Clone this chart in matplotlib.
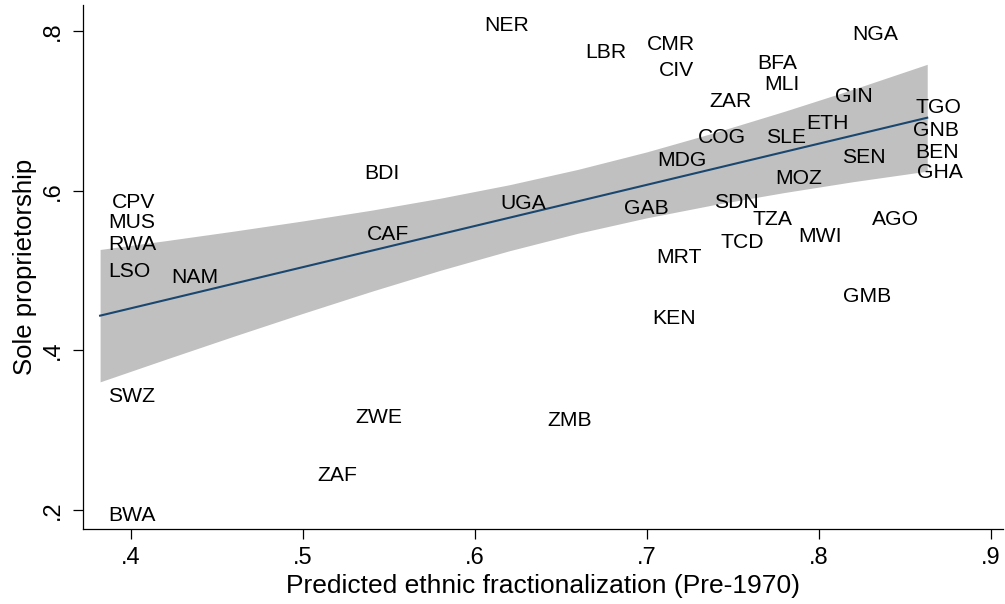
import matplotlib
matplotlib.use("Agg")
import matplotlib.pyplot as plt

plt.rcParams["font.family"] = ["Liberation Sans", "DejaVu Sans"]

# country codes with predicted fractionalization (x) and sole proprietorship share (y)
codes = ["CPV", "MUS", "RWA", "LSO", "NAM", "SWZ", "BWA", "ZAF", "ZWE", "CAF",
         "BDI", "NER", "UGA", "ZMB", "LBR", "GAB", "CMR", "CIV", "MDG", "MRT",
         "KEN", "COG", "ZAR", "SDN", "TCD", "TZA", "BFA", "MLI", "SLE", "MOZ",
         "MWI", "ETH", "GIN", "SEN", "GMB", "NGA", "AGO", "GNB", "TGO", "BEN", "GHA"]
frac = [0.3843, 0.3820, 0.3823, 0.3820, 0.4186, 0.3820, 0.3820, 0.5035, 0.5258, 0.5322,
        0.5310, 0.6008, 0.6101, 0.6376, 0.6597, 0.6817, 0.6953, 0.7021, 0.7015, 0.7008,
        0.6983, 0.7248, 0.7317, 0.7345, 0.7380, 0.7564, 0.7593, 0.7636, 0.7647, 0.7699,
        0.7835, 0.7880, 0.8044, 0.8087, 0.8093, 0.8145, 0.8262, 0.8500, 0.8513, 0.8513, 0.8523]
sole = [0.5884, 0.5624, 0.5354, 0.5016, 0.4944, 0.3454, 0.1960, 0.2465, 0.3191, 0.5479,
        0.6238, 0.8096, 0.5862, 0.3150, 0.7753, 0.5800, 0.7853, 0.7533, 0.6406, 0.5195,
        0.4431, 0.6689, 0.7148, 0.5884, 0.5383, 0.5667, 0.7616, 0.7353, 0.6689, 0.6184,
        0.5454, 0.6864, 0.7211, 0.6447, 0.4706, 0.7984, 0.5662, 0.6781, 0.7064, 0.6501, 0.6259]

# linear fit with 95% CI
fit_x = [0.3822, 0.8631]
fit_y = [0.4435, 0.6914]
band_x = [0.3822, 0.42, 0.46, 0.50, 0.54, 0.58, 0.62, 0.66, 0.70, 0.74, 0.78, 0.82, 0.8631]
band_hi = [0.5264, 0.5373, 0.5494, 0.5621, 0.5756, 0.5906, 0.6074, 0.6267, 0.6486,
           0.6731, 0.6994, 0.7270, 0.7583]
band_lo = [0.3606, 0.3886, 0.4178, 0.4463, 0.4740, 0.5003, 0.5247, 0.5467, 0.5660,
           0.5828, 0.5977, 0.6113, 0.6245]

xticks = [0.4, 0.5, 0.6, 0.7, 0.8, 0.9]
yticks = [0.2, 0.4, 0.6, 0.8]

fig = plt.figure(figsize=(10.05, 6.04), dpi=100)
ax = fig.add_axes([0.0826, 0.1247, 0.9154, 0.867])

ax.fill_between(band_x, band_lo, band_hi, color="#c0c0c0", linewidth=0)
ax.plot(fit_x, fit_y, color="#1a476f", linewidth=1.5)

for c, x, y in zip(codes, frac, sole):
    ax.annotate(c, (x, y), xytext=(6, -5.5), textcoords="offset points",
                ha="left", va="baseline", fontsize=15.2, color="black")

ax.set_xlim(0.37227, 0.90715)
ax.set_ylim(0.17671, 0.83256)
ax.set_xticks(xticks)
ax.set_xticklabels([f"{t:.1f}".lstrip("0") for t in xticks])
ax.set_yticks(yticks)
ax.set_yticklabels([f"{t:.1f}".lstrip("0") for t in yticks], rotation=90, va="center")

for s in ["top", "right"]:
    ax.spines[s].set_visible(False)
for s in ["left", "bottom"]:
    ax.spines[s].set_linewidth(0.9)
ax.tick_params(direction="out", length=7.5, width=0.9, labelsize=17, pad=6)

ax.set_xlabel("Predicted ethnic fractionalization (Pre-1970)", fontsize=19, labelpad=3)
ax.set_ylabel("Sole proprietorship", fontsize=18.5, labelpad=4)

fig.savefig("out.png", dpi=100)
